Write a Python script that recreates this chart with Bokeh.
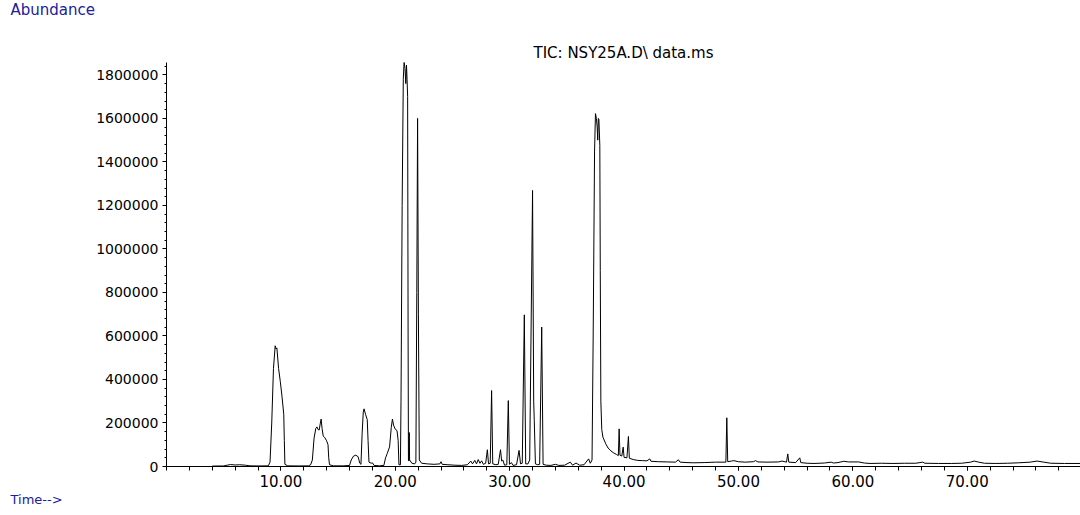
from bokeh.plotting import figure
from bokeh.models import FixedTicker, PrintfTickFormatter, Title, Range1d
from bokeh.embed import file_html
from bokeh.resources import INLINE

# ---- data (time in min, abundance in counts) ----
time_min = [
    4.0, 5.0, 5.3, 5.6, 6.0, 6.4, 6.9, 7.3, 8.0, 8.9,
    9.05, 9.2, 9.35, 9.5, 9.58, 9.65, 9.8, 9.95, 10.1, 10.25, 10.3, 10.35, 10.6, 11.5, 12.4, 12.6,
    12.75, 12.9, 13.05, 13.15, 13.25, 13.35, 13.45, 13.52, 13.6, 13.7, 13.85, 14.0, 14.12, 14.18, 14.25, 14.6, 15.5, 16.0,
    16.15, 16.35, 16.55, 16.75, 16.9, 17.0,
    17.1, 17.2, 17.27, 17.4, 17.55, 17.62, 17.7, 17.9, 18.0, 18.15, 18.6, 19.0,
    19.15, 19.3, 19.5, 19.65, 19.75, 19.85, 19.98, 20.15, 20.25, 20.32,
    20.45, 20.5, 20.6, 20.7, 20.77, 20.85, 20.92, 20.98, 21.03, 21.08, 21.12, 21.15,
    21.19, 21.22, 21.25, 21.45, 21.7,
    21.8, 21.88, 21.95, 22.02, 22.1, 22.3, 22.8, 23.4, 23.9, 24.0, 24.1, 24.6, 25.2, 25.8, 26.3,
    26.6, 26.75, 26.95, 27.1, 27.25, 27.4, 27.55, 27.7, 27.9, 28.05, 28.15, 28.3, 28.42, 28.52, 28.8,
    29.0, 29.2, 29.3, 29.4, 29.55, 29.75, 29.88, 29.98, 30.15, 30.3, 30.6, 30.82, 30.95, 31.1, 31.28,
    31.4, 31.6, 31.75, 32.0, 32.1, 32.15, 32.25, 32.45, 32.62, 32.8, 32.92, 33.2, 33.6, 34.0, 34.3,
    34.8, 35.3, 35.5, 35.8, 36.1, 36.5, 36.9, 37.05, 37.2,
    37.3, 37.42, 37.5, 37.58, 37.65, 37.7, 37.75, 37.8, 37.88, 37.92, 37.97, 38.05, 38.15, 38.4,
    38.6, 38.85, 39.1, 39.35, 39.5, 39.57, 39.64, 39.8, 39.92, 40.0, 40.25, 40.38, 40.46, 40.8,
    41.2, 41.6, 42.0, 42.25, 42.35, 43.0, 43.8, 44.5, 44.75, 44.9, 45.5, 46.1, 47.0, 48.0, 48.9,
    48.98, 49.06, 49.4, 49.6, 50.0, 50.6, 51.3, 51.5, 51.7, 52.5, 53.5, 53.8, 54.2, 54.31, 54.4,
    55.0, 55.36, 55.45, 56.0, 56.6, 57.5, 58.1, 58.3, 58.7, 59.2, 59.6, 60.5, 61.0, 61.5, 62.5,
    63.5, 64.5, 65.5, 66.1, 66.3, 67.5, 68.6, 69.5, 70.3, 70.6, 71.0, 71.5, 72.5, 73.5, 74.5,
    75.5, 76.1, 76.7, 77.3, 78.5, 79.9,
]
abundance = [
    2000, 2500, 6000, 9000, 7000, 8000, 6000, 3000, 2500, 3000,
    20000, 200000, 450000, 555000, 540000, 545000, 450000, 390000, 320000, 240000, 120000, 10000, 3000, 2500, 3000, 8000,
    30000, 130000, 175000, 182000, 170000, 168000, 200000, 218000, 175000, 140000, 132000, 118000, 100000, 40000, 8000, 3000, 3000, 5000,
    30000, 48000, 52000, 45000, 15000, 10000,
    150000, 250000, 265000, 240000, 215000, 120000, 20000, 15000, 17000, 5000, 3000, 5000,
    40000, 60000, 90000, 180000, 218000, 190000, 173000, 165000, 120000, 8000,
    8000, 300000, 1200000, 1780000, 1860000, 1830000, 1760000, 1845000, 1780000, 1700000, 600000, 30000,
    25000, 156000, 30000, 15000, 12000,
    20000, 800000, 1600000, 700000, 30000, 15000, 12000, 10000, 12000, 22000, 10000, 8000, 6000, 5000, 8000,
    25000, 12000, 28000, 12000, 32000, 15000, 26000, 10000, 15000, 77000, 12000, 15000, 349000, 12000, 8000,
    10000, 77000, 25000, 30000, 6000, 8000, 303000, 10000, 18000, 5000, 8000, 74000, 12000, 15000, 697000,
    12000, 12000, 30000, 1269000, 300000, 210000, 12000, 8000, 10000, 641000, 10000, 6000, 5000, 10000, 5000,
    6000, 20000, 6000, 16000, 6000, 8000, 35000, 15000, 30000,
    600000, 1450000, 1622000, 1600000, 1560000, 1500000, 1600000, 1595000, 1476000, 900000, 300000, 170000, 135000, 104000,
    85000, 72000, 62000, 55000, 50000, 173000, 52000, 48000, 89000, 42000, 40000, 138000, 38000, 32000,
    28000, 27000, 26000, 35000, 24000, 22000, 21000, 20000, 31000, 20000, 18000, 17000, 18000, 20000, 20000,
    224000, 22000, 25000, 27000, 22000, 20000, 22000, 27000, 21000, 20000, 21000, 25000, 20000, 58000, 20000,
    18000, 40000, 18000, 15000, 14000, 16000, 20000, 16000, 18000, 24000, 21000, 21000, 16000, 14000, 15000,
    14000, 15000, 15000, 20000, 15000, 14000, 14000, 15000, 20000, 25000, 20000, 15000, 14000, 15000, 17000,
    20000, 25000, 20000, 15000, 14000, 14000,
]

x_major_ticks = [10, 20, 30, 40, 50, 60, 70]
x_minor_ticks = list(range(0, 81, 2))
y_major_ticks = list(range(0, 1800001, 200000))
y_minor_ticks = list(range(0, 1840001, 40000))

title_text = "TIC: NSY25A.D\\ data.ms"
y_title = "Abundance"
x_title = "Time-->"

FONT = "DejaVu Sans"
BLUE = "#20209a"

p = figure(width=1080, height=515, output_backend="svg", toolbar_location=None,
           x_range=Range1d(0, 79.9), y_range=Range1d(0, 1857000),
           min_border_left=166, min_border_right=0, min_border_top=62, min_border_bottom=49)
p.outline_line_color = None
p.xgrid.visible = False
p.ygrid.visible = False
p.background_fill_color = "white"
p.border_fill_color = "white"

p.line(time_min, abundance, line_color="black", line_width=1)

# x axis
xa = p.xaxis[0]
xa.ticker = FixedTicker(ticks=x_major_ticks, minor_ticks=x_minor_ticks)
xa.formatter = PrintfTickFormatter(format="%.2f")
xa.major_label_text_font = FONT
xa.major_label_text_font_size = "15px"
xa.major_label_text_color = "black"
xa.axis_line_color = "black"
xa.major_tick_line_color = "black"
xa.minor_tick_line_color = "black"
xa.major_tick_in = 0
xa.major_tick_out = 4
xa.minor_tick_in = 0
xa.minor_tick_out = 4
xa.major_label_standoff = 4

# y axis
ya = p.yaxis[0]
ya.ticker = FixedTicker(ticks=y_major_ticks, minor_ticks=y_minor_ticks)
ya.formatter = PrintfTickFormatter(format="%d")
ya.major_label_text_font = FONT
ya.major_label_text_font_size = "14px"
ya.major_label_text_color = "black"
ya.axis_line_color = "black"
ya.major_tick_line_color = "black"
ya.minor_tick_line_color = "black"
ya.major_tick_in = 0
ya.major_tick_out = 4
ya.minor_tick_in = 0
ya.minor_tick_out = 2
ya.major_label_standoff = 4

# titles (first added to "above" is nearest the frame)
p.add_layout(Title(text=title_text, align="center", offset=2, text_font=FONT,
                   text_font_size="15px", text_font_style="normal",
                   text_color="black", standoff=1), "above")
p.add_layout(Title(text=" ", align="left", text_font=FONT,
                   text_font_size="15px", text_font_style="normal",
                   standoff=1), "above")
p.add_layout(Title(text=y_title, align="left", offset=-156, text_font=FONT,
                   text_font_size="15px", text_font_style="normal",
                   text_color=BLUE, standoff=0, vertical_align="top"), "above")
p.add_layout(Title(text=x_title, align="left", offset=-156, text_font=FONT,
                   text_font_size="13px", text_font_style="normal",
                   text_color=BLUE, standoff=0), "below")

open("out.html", "w").write(file_html(p, INLINE))
